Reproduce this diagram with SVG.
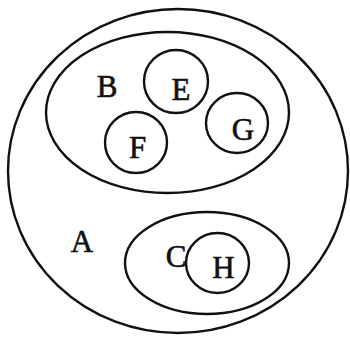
<svg xmlns="http://www.w3.org/2000/svg" width="350" height="337" viewBox="0 0 350 337">
<style>
.s{fill:none;stroke:#111;stroke-width:2.4}
text{font-family:"Liberation Serif","Times New Roman",serif;font-size:31px;fill:#111;stroke:#111;stroke-width:0.6;text-anchor:middle}
</style>
<rect width="350" height="337" fill="#fff"/>
<g id="A"><ellipse class="s" cx="178" cy="171" rx="170" ry="162"/><text x="82" y="252">A</text></g>
<g id="B"><ellipse class="s" cx="167.5" cy="112.5" rx="121.5" ry="80.5"/><text x="107" y="97">B</text></g>
<g id="E"><ellipse class="s" cx="176" cy="81.5" rx="32" ry="31.5"/><text x="181" y="100">E</text></g>
<g id="F"><ellipse class="s" cx="136" cy="142.5" rx="31" ry="30.5"/><text x="137.5" y="158">F</text></g>
<g id="G"><ellipse class="s" cx="237" cy="123" rx="31" ry="30"/><text x="243" y="140">G</text></g>
<g id="C"><ellipse class="s" cx="207" cy="263" rx="82" ry="51"/><text x="176" y="267">C</text></g>
<g id="H"><ellipse class="s" cx="217.5" cy="263" rx="31.5" ry="30"/><text x="223.5" y="278">H</text></g>
<g id="connectors"></g>
</svg>
